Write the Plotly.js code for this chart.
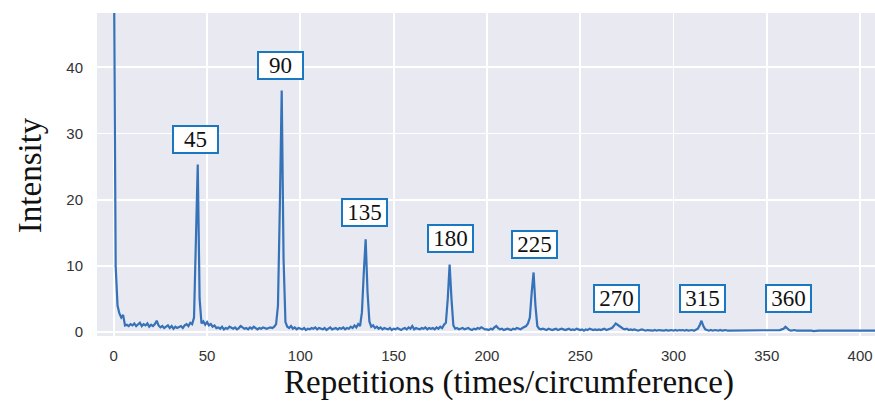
<!DOCTYPE html>
<html>
<head>
<meta charset="utf-8">
<script src="https://cdn.plot.ly/plotly-3.0.1.min.js"></script>
<style>html,body{margin:0;padding:0;background:#fff;}#chart{width:875px;height:403px;}</style>
</head>
<body>
<div id="chart"></div>
<script>
// Intensity per repetition count (index = repetitions, 0..408)
const intensity = [
  60, 10, 4, 2.8, 2.2, 2.6, 1.0, 1.1, 0.9, 1.2,
  1.0, 1.3, 0.9, 1.1, 1.4, 0.9, 1.2, 1.0, 1.3, 0.8,
  1.1, 0.9, 1.2, 1.7, 1.0, 0.7, 0.9, 0.6, 0.8, 1.0,
  0.6, 0.9, 0.5, 0.8, 0.6, 0.7, 0.9, 0.6, 1.0, 1.2,
  0.9, 1.4, 1.2, 2.2, 12, 25.3, 5, 1.3, 1.6, 1.1,
  1.5, 1.0, 1.2, 0.8, 1.0, 0.6, 0.7, 0.5, 0.8, 0.4,
  0.6, 0.5, 0.8, 0.6, 0.5, 0.7, 0.4, 0.6, 0.9, 0.7,
  0.5, 0.6, 0.4, 0.7, 0.5, 0.8, 0.6, 0.4, 0.6, 0.5,
  0.7, 0.6, 0.5, 0.6, 0.7, 0.6, 0.8, 1.2, 4, 19,
  36.5, 11, 1.5, 0.8, 0.6, 0.9, 0.5, 0.7, 0.4, 0.6,
  0.5, 0.4, 0.6, 0.3, 0.5, 0.4, 0.6, 0.5, 0.7, 0.4,
  0.6, 0.5, 0.4, 0.6, 0.3, 0.5, 0.7, 0.4, 0.5, 0.6,
  0.4, 0.6, 0.5, 0.7, 0.4, 0.6, 0.5, 0.8, 0.6, 1.0,
  0.7, 1.2, 0.9, 3, 9, 14, 6, 1.6, 0.8, 1.0,
  0.6, 0.8, 0.5, 0.7, 0.4, 0.6, 0.5, 0.4, 0.6, 0.3,
  0.5, 0.4, 0.6, 0.5, 0.3, 0.5, 0.6, 0.4, 0.7, 0.5,
  0.9, 0.4, 0.6, 0.5, 0.4, 0.6, 0.5, 0.7, 0.4, 0.6,
  0.5, 0.6, 0.4, 0.7, 0.5, 0.8, 0.6, 1.1, 1.4, 5,
  10.2, 5, 1.0, 0.5, 0.6, 0.4, 0.5, 0.6, 0.4, 0.5,
  0.6, 0.4, 0.3, 0.5, 0.4, 0.6, 0.5, 0.7, 0.5, 0.4,
  0.4, 0.3, 0.5, 0.4, 0.7, 0.9, 0.6, 0.4, 0.5, 0.3,
  0.4, 0.5, 0.4, 0.3, 0.5, 0.4, 0.6, 0.5, 0.4, 0.6,
  0.7, 0.9, 1.3, 2.2, 6, 9, 4, 0.9, 0.5, 0.4,
  0.5, 0.4, 0.3, 0.5, 0.4, 0.3, 0.4, 0.5, 0.3, 0.4,
  0.5, 0.4, 0.3, 0.4, 0.5, 0.3, 0.4, 0.3, 0.5, 0.4,
  0.3, 0.4, 0.2, 0.4, 0.3, 0.5, 0.4, 0.3, 0.4, 0.3,
  0.4, 0.3, 0.4, 0.5, 0.3, 0.4, 0.5, 0.6, 0.9, 1.3,
  1.1, 0.9, 0.6, 0.5, 0.4, 0.5, 0.3, 0.4, 0.3, 0.4,
  0.3, 0.2, 0.3, 0.4, 0.3, 0.2, 0.3, 0.25, 0.3, 0.2,
  0.3, 0.2, 0.3, 0.25, 0.3, 0.2, 0.3, 0.2, 0.25, 0.3,
  0.2, 0.3, 0.2, 0.3, 0.25, 0.3, 0.2, 0.3, 0.2, 0.3,
  0.3, 0.2, 0.3, 0.5, 1.0, 1.7, 0.9, 0.4, 0.3, 0.2,
  0.3, 0.2, 0.3, 0.25, 0.2, 0.3, 0.2, 0.25, 0.3, 0.2,
  0.2, 0.3, 0.2, 0.25, 0.3, 0.2, 0.2, 0.3, 0.2, 0.25,
  0.2, 0.25, 0.3, 0.2, 0.2, 0.25, 0.3, 0.2, 0.2, 0.25,
  0.3, 0.2, 0.25, 0.2, 0.3, 0.2, 0.25, 0.3, 0.4, 0.5,
  0.8, 0.5, 0.3, 0.2, 0.25, 0.3, 0.2, 0.25, 0.2, 0.2,
  0.25, 0.2, 0.2, 0.25, 0.2, 0.15, 0.2, 0.25, 0.2, 0.2,
  0.2, 0.25, 0.2, 0.15, 0.2, 0.2, 0.25, 0.2, 0.2, 0.15,
  0.2, 0.2, 0.25, 0.2, 0.15, 0.2, 0.2, 0.25, 0.2, 0.2,
  0.2, 0.15, 0.2, 0.25, 0.2, 0.2, 0.15, 0.2, 0.2
];
const repetitions = intensity.map((_, i) => i);

// Peak labels
const peakLabels = ["45", "90", "135", "180", "225", "270", "315", "360"];
const labelX = [44, 89.5, 134.6, 180.7, 225.5, 269.7, 315.3, 361.4];
const labelY = [29.1, 40.2, 18.0, 14.2, 13.2, 5.1, 5.1, 5.1];

const xTicks = [0, 50, 100, 150, 200, 250, 300, 350, 400];
const yTicks = [0, 10, 20, 30, 40];

const serif = "Liberation Serif, Times New Roman, serif";
const sans = "Liberation Sans, Arial, sans-serif";

const annotations = peakLabels.map((t, i) => ({
  x: labelX[i], y: labelY[i], xref: "x", yref: "y",
  text: t, showarrow: false,
  font: {family: serif, size: 23, color: "#111"},
  bgcolor: "#ffffff", bordercolor: "#1a78c2", borderwidth: 2,
  borderpad: 1, width: 41, height: 23, xanchor: "center", yanchor: "middle"
}));
annotations.push({
  xref: "paper", yref: "paper", x: -0.0861, y: 0.498,
  text: "Intensity", textangle: -90, showarrow: false,
  font: {family: serif, size: 33, color: "#111"},
  xanchor: "center", yanchor: "middle"
});
annotations.push({
  xref: "paper", yref: "paper", x: 0.5296, y: -0.1455,
  text: "Repetitions (times/circumference)", showarrow: false,
  font: {family: serif, size: 33, color: "#111"},
  xanchor: "center", yanchor: "middle"
});

const trace = {
  x: repetitions, y: intensity, type: "scatter", mode: "lines",
  line: {color: "#3572b8", width: 2.2}, hoverinfo: "x+y"
};

const layout = {
  width: 875, height: 403,
  margin: {l: 97, r: 0, t: 13, b: 67},
  paper_bgcolor: "#ffffff", plot_bgcolor: "#e9e9f1",
  showlegend: false,
  xaxis: {
    range: [-9, 408], tickvals: xTicks, ticktext: xTicks.map(String),
    showgrid: true, gridcolor: "#ffffff", gridwidth: 1.8,
    zeroline: false, showline: false, ticks: "",
    ticklabelstandoff: 9,
    tickfont: {family: sans, size: 15, color: "#333333"}
  },
  yaxis: {
    range: [-0.6, 48.2], tickvals: yTicks, ticktext: yTicks.map(String),
    showgrid: true, gridcolor: "#ffffff", gridwidth: 1.8,
    zeroline: false, showline: false, ticks: "",
    ticklabelstandoff: 13,
    tickfont: {family: sans, size: 15, color: "#333333"}
  },
  annotations: annotations
};

Plotly.newPlot("chart", [trace], layout, {displayModeBar: false, staticPlot: true});
</script>
</body>
</html>
